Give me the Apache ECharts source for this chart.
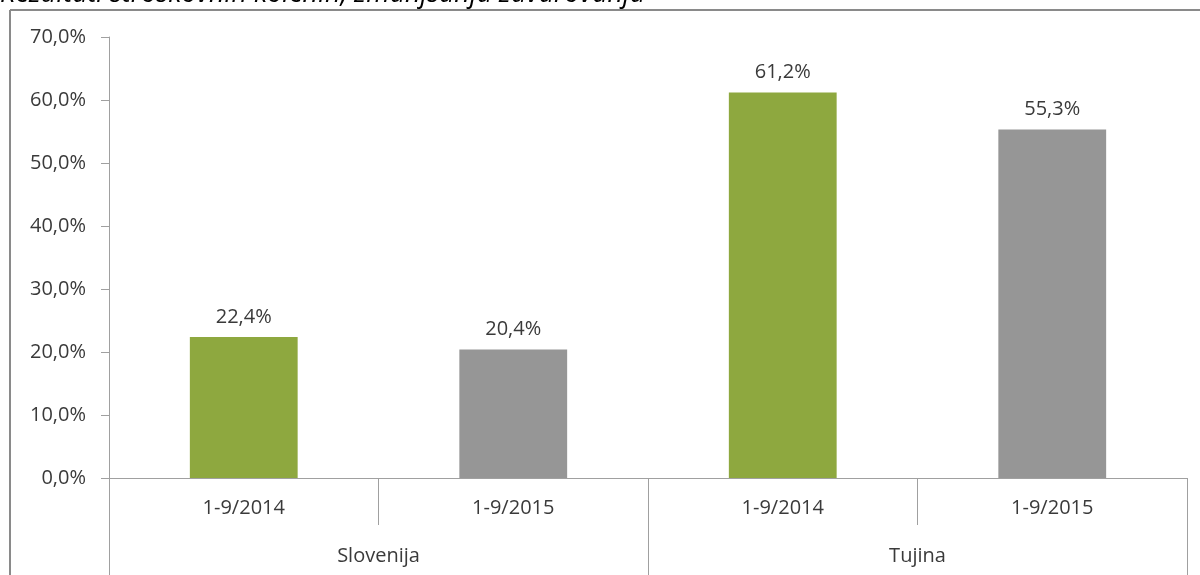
<!DOCTYPE html>
<html>
<head>
<meta charset="utf-8">
<script src="https://cdn.jsdelivr.net/npm/echarts@6/dist/echarts.min.js"></script>
<style>
html,body{margin:0;padding:0;background:#fff;}
#chart{width:1200px;height:575px;}
</style>
</head>
<body>
<div id="chart"></div>
<script>
var titleText = 'Rezultati stroškovnih kolenih, zmanjšanja zavarovanja';
var periods = ['1-9/2014', '1-9/2015', '1-9/2014', '1-9/2015'];
var groups = ['Slovenija', 'Tujina'];
var values = [22.4, 20.4, 61.2, 55.3];
var barColors = ['#8EA83F', '#969696', '#8EA83F', '#969696'];
var yTicks = [0, 10, 20, 30, 40, 50, 60, 70];

var FONT = 'Open Sans';
var TXT = '#3a3a3a';
var AX = '#A0A0A0';

function pct(v) { return v.toFixed(1).replace('.', ',') + '%'; }

var chart = echarts.init(document.getElementById('chart'), null, {renderer: 'canvas'});
chart.setOption({
  animation: false,
  backgroundColor: '#ffffff',
  textStyle: {fontFamily: FONT},
  grid: {left: 109, right: 13, top: 37, bottom: 97, containLabel: false},
  graphic: [
    {type: 'line', shape: {x1: 10, y1: 10, x2: 1200, y2: 10}, style: {stroke: '#8a8a8a', lineWidth: 2}, z: 100},
    {type: 'line', shape: {x1: 10, y1: 10, x2: 10, y2: 575}, style: {stroke: '#8a8a8a', lineWidth: 2}, z: 100},
    {type: 'text', left: 0, top: -19, z: 50,
     style: {text: titleText, fontFamily: FONT, fontSize: 27, fontStyle: 'italic', fill: '#000000'}}
  ],
  xAxis: [
    {
      type: 'category',
      data: periods,
      position: 'bottom',
      axisLine: {show: true, lineStyle: {color: AX, width: 1}},
      axisTick: {show: true, interval: 0, alignWithLabel: false, length: 47, lineStyle: {color: AX}},
      axisLabel: {interval: 0, margin: 20, color: TXT, fontFamily: FONT, fontSize: 20}
    },
    {
      type: 'category',
      data: groups,
      position: 'bottom',
      axisLine: {show: false},
      axisTick: {show: true, interval: 0, alignWithLabel: false, length: 100, lineStyle: {color: AX}},
      axisLabel: {interval: 0, margin: 68, color: TXT, fontFamily: FONT, fontSize: 20}
    }
  ],
  yAxis: {
    type: 'value',
    min: yTicks[0],
    max: yTicks[yTicks.length - 1],
    interval: 10,
    axisLine: {show: true, lineStyle: {color: AX}},
    axisTick: {show: true, length: 8, lineStyle: {color: AX}},
    splitLine: {show: false},
    axisLabel: {margin: 23, color: TXT, fontFamily: FONT, fontSize: 20, formatter: function (v) { return pct(v); }}
  },
  series: [{
    type: 'bar',
    xAxisIndex: 0,
    barWidth: '40%',
    data: values.map(function (v, i) { return {value: v, itemStyle: {color: barColors[i]}}; }),
    label: {show: true, position: 'top', distance: 10, color: TXT, fontFamily: FONT, fontSize: 20,
            formatter: function (p) { return pct(p.value); }}
  }]
});
</script>
</body>
</html>
